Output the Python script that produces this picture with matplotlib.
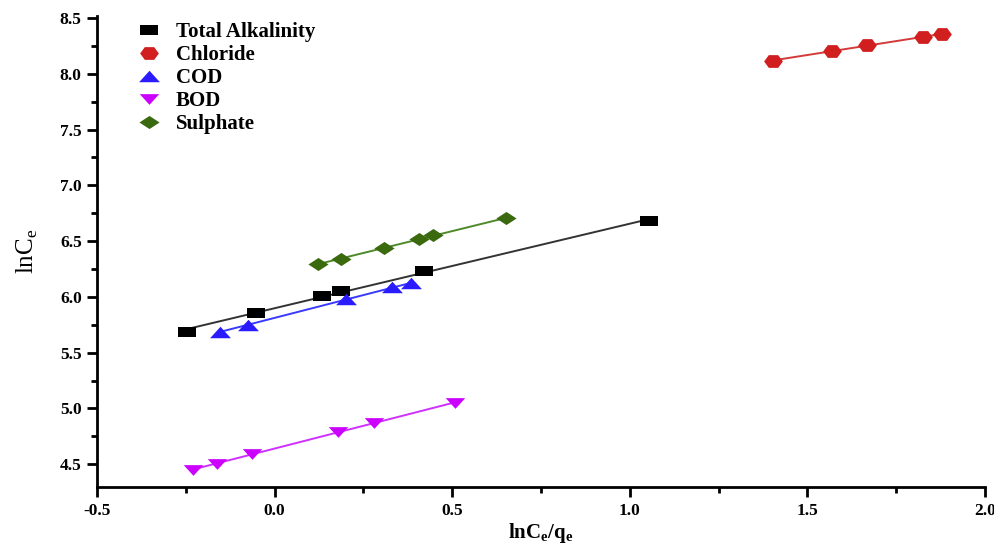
import numpy as np
import matplotlib
matplotlib.use("Agg")
import matplotlib.pyplot as plt
from matplotlib.ticker import MultipleLocator

plt.rcParams['font.family'] = ['Liberation Serif', 'DejaVu Serif']
plt.rcParams['mathtext.fontset'] = 'custom'
plt.rcParams['mathtext.rm'] = 'Liberation Serif'
plt.rcParams['mathtext.bf'] = 'Liberation Serif:bold'
plt.rcParams['axes.unicode_minus'] = False

# data (x = lnCe/qe, y = lnCe)
alk_x = [-0.248, -0.053, 0.134, 0.186, 0.420, 1.055]
alk_y = [5.688, 5.853, 6.011, 6.056, 6.235, 6.681]

chl_x = [1.403, 1.570, 1.669, 1.826, 1.879]
chl_y = [8.116, 8.207, 8.258, 8.329, 8.356]

cod_x = [-0.153, -0.075, 0.200, 0.330, 0.385]
cod_y = [5.688, 5.748, 5.978, 6.086, 6.122]

bod_x = [-0.230, -0.161, -0.063, 0.178, 0.279, 0.509]
bod_y = [4.452, 4.506, 4.590, 4.790, 4.874, 5.050]

sul_x = [0.122, 0.188, 0.309, 0.406, 0.447, 0.652]
sul_y = [6.295, 6.340, 6.442, 6.518, 6.552, 6.706]

labels = ['Total Alkalinity', 'Chloride', 'COD', 'BOD', 'Sulphate']

# flattened marker shapes (the original is stretched sideways)
m_square = [(-1, -0.6), (1, -0.6), (1, 0.6), (-1, 0.6), (-1, -0.6)]
m_hex = [(-1, 0), (-0.5, 0.68), (0.5, 0.68), (1, 0), (0.5, -0.68), (-0.5, -0.68), (-1, 0)]
m_up = [(-1, -0.55), (1, -0.55), (0, 0.55), (-1, -0.55)]
m_down = [(-1, 0.55), (1, 0.55), (0, -0.55), (-1, 0.55)]
m_diam = [(-1, 0), (0, 0.65), (1, 0), (0, -0.65), (-1, 0)]

series = [
    (alk_x, alk_y, m_square, 12.5, '#000000', '#333333'),
    (chl_x, chl_y, m_hex, 13.5, '#d11f1f', '#d33a3a'),
    (cod_x, cod_y, m_up, 15, '#2a1cff', '#3a3aff'),
    (bod_x, bod_y, m_down, 14, '#cc00ff', '#d030ff'),
    (sul_x, sul_y, m_diam, 14.5, '#3b6a0e', '#4f8a2a'),
]

fig = plt.figure(figsize=(9.95, 5.45), dpi=100)
ax = fig.add_axes([0.0975, 0.106, 0.8925, 0.865])

for (xs, ys, mk, ms, col, lcol), lab in zip(series, labels):
    xs = np.array(xs)
    ys = np.array(ys)
    k, b = np.polyfit(xs, ys, 1)
    xl = np.array([xs.min(), xs.max()])
    ax.plot(xl, k * xl + b, '-', color=lcol, linewidth=1.4, zorder=2)
    ax.plot(xs, ys, linestyle='none', marker=mk, markersize=ms,
            color=col, markeredgewidth=0, label=lab, zorder=3)

ax.set_xlim(-0.5, 2.0)
ax.set_ylim(4.294, 8.52)
ax.xaxis.set_major_locator(MultipleLocator(0.5))
ax.xaxis.set_minor_locator(MultipleLocator(0.25))
ax.yaxis.set_minor_locator(MultipleLocator(0.25))
ax.set_yticks(np.arange(4.5, 8.51, 0.5))

for side in ['top', 'right']:
    ax.spines[side].set_visible(False)
for side in ['left', 'bottom']:
    ax.spines[side].set_linewidth(2)

ax.tick_params(which='major', direction='out', length=7, width=2,
               labelsize=12.5, pad=4)
ax.tick_params(which='minor', direction='out', length=4, width=2)
for lab in ax.get_xticklabels() + ax.get_yticklabels():
    lab.set_fontweight('bold')

ax.set_xlabel(r'$\mathbf{lnC_e/q_e}$', fontsize=15, labelpad=2)
ax.set_ylabel(r'lnC$_\mathregular{e}$', fontsize=18, labelpad=14)

leg = fig.legend(loc='upper left', bbox_to_anchor=(0.135, 0.96), frameon=False,
                 prop={'weight': 'bold', 'size': 15}, handlelength=1.4,
                 handletextpad=0.6, labelspacing=0.15, borderpad=0,
                 borderaxespad=0)

fig.savefig('out.png', dpi=100)
